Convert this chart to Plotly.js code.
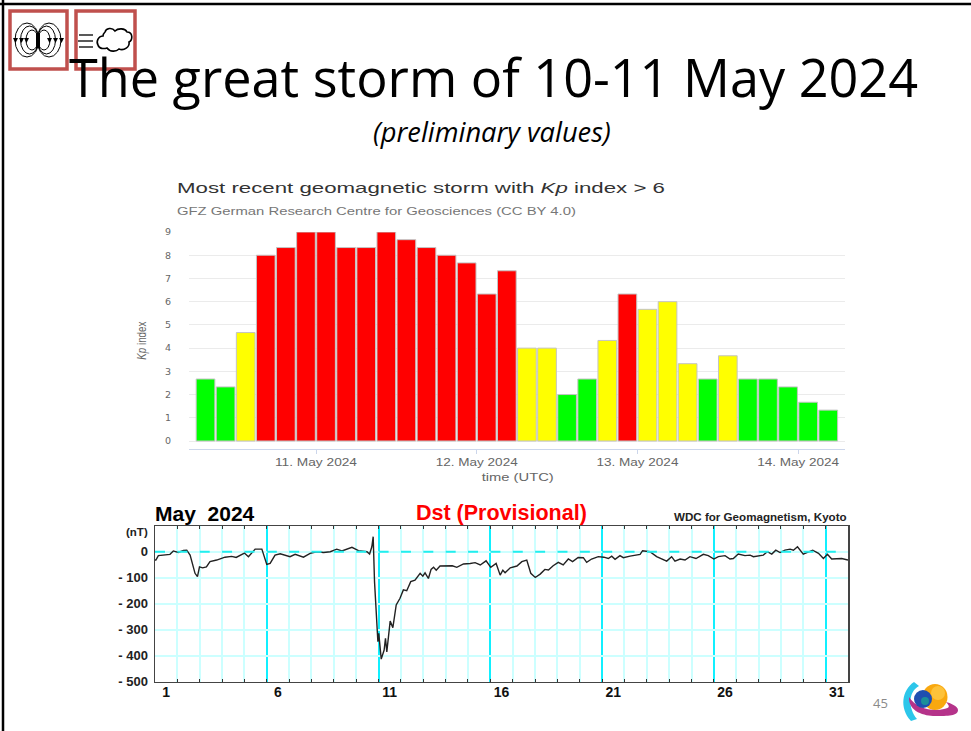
<!DOCTYPE html>
<html>
<head>
<meta charset="utf-8">
<script src="https://cdn.plot.ly/plotly-3.0.1.min.js"></script>
<style>html,body{margin:0;padding:0;background:#fff}#c{width:971px;height:731px}</style>
</head>
<body>
<div id="c"></div>
<script>
// Kp index, 3-hourly bars
var kpTimes = ['2024-05-10 07:30','2024-05-10 10:30','2024-05-10 13:30','2024-05-10 16:30','2024-05-10 19:30','2024-05-10 22:30',
 '2024-05-11 01:30','2024-05-11 04:30','2024-05-11 07:30','2024-05-11 10:30','2024-05-11 13:30','2024-05-11 16:30','2024-05-11 19:30','2024-05-11 22:30',
 '2024-05-12 01:30','2024-05-12 04:30','2024-05-12 07:30','2024-05-12 10:30','2024-05-12 13:30','2024-05-12 16:30','2024-05-12 19:30','2024-05-12 22:30',
 '2024-05-13 01:30','2024-05-13 04:30','2024-05-13 07:30','2024-05-13 10:30','2024-05-13 13:30','2024-05-13 16:30','2024-05-13 19:30','2024-05-13 22:30',
 '2024-05-14 01:30','2024-05-14 04:30'];
var kpValues = [2.67,2.33,4.67,8,8.33,9,9,8.33,8.33,9,8.67,8.33,8,7.67,6.33,7.33,4,4,2,2.67,4.33,6.33,5.67,6,3.33,2.67,3.67,2.67,2.67,2.33,1.67,1.33];
var G='#00ff00',Y='#ffff00',R='#ff0000';
var kpColors = [G,G,Y,R,R,R,R,R,R,R,R,R,R,R,R,R,Y,Y,G,G,Y,R,Y,Y,Y,G,Y,G,G,G,G,G];
var kpTickVals = ['2024-05-11','2024-05-12','2024-05-13','2024-05-14'];
var kpTickText = ['11. May 2024','12. May 2024','13. May 2024','14. May 2024'];

// Dst index: day position (1 = start of 1 May) and nT
var dstDays = [1.0,1.04,1.15,1.45,1.67,1.82,2.04,2.27,2.42,2.57,2.69,2.79,2.9,2.99,3.13,3.3,3.46,3.76,4.13,4.43,4.63,4.81,5.0,5.18,5.48,5.78,6.0,6.15,6.37,6.6,6.82,7.04,7.27,7.64,7.94,8.24,8.54,8.84,9.13,9.36,9.81,10.1,10.48,10.6,10.7,10.76,10.82,10.88,10.97,11.01,11.12,11.25,11.31,11.37,11.52,11.64,11.79,11.96,12.11,12.26,12.44,12.63,12.86,12.98,13.08,13.23,13.35,13.46,13.58,13.75,14.05,14.3,14.5,14.8,15.1,15.32,15.55,15.81,16.02,16.26,16.44,16.56,16.66,16.89,17.19,17.41,17.63,17.81,18.01,18.23,18.44,18.6,18.81,19.04,19.26,19.49,19.68,19.93,20.16,20.31,20.53,20.83,21.08,21.28,21.43,21.58,21.8,21.95,22.25,22.7,22.81,23.14,23.44,23.67,23.89,24.11,24.26,24.49,24.71,24.93,25.2,25.53,25.75,26.0,26.2,26.5,26.72,26.87,27.09,27.39,27.62,27.77,27.99,28.21,28.39,28.59,28.77,28.96,29.18,29.41,29.56,29.74,30.0,30.42,30.68,30.9,31.08,31.27,31.72,32.0];
var dstValues = [-32,-32,-15,-13,-10,3,-3,5,6,-13,-58,-83,-96,-58,-62,-58,-38,-32,-21,-18,-22,-13,-5,-19,10,10,-49,-45,-13,-8,-15,-19,-10,-21,-6,0,-3,0,10,3,17,4,0,-9,19,58,-115,-192,-346,-314,-413,-378,-333,-385,-267,-292,-205,-179,-147,-150,-115,-109,-83,-94,-81,-103,-68,-60,-71,-55,-53,-54,-60,-47,-45,-42,-51,-35,-60,-45,-90,-71,-81,-62,-55,-38,-32,-83,-99,-86,-68,-70,-54,-41,-51,-28,-38,-22,-23,-41,-28,-19,-21,-26,-17,-29,-15,-23,-17,-10,4,0,-19,-29,-36,-19,-36,-28,-32,-19,-26,-10,-15,-28,-19,-15,-28,-26,-9,-15,-13,-19,-15,-13,0,-9,6,-3,6,10,6,19,-9,6,-6,-26,-10,-28,-26,-32];
var dstLabelDays = [1.5,6.5,11.5,16.5,21.5,26.5,31.5];
var dstLabels = ['1','6','11','16','21','26','31'];
var dstYTicks = [0,-100,-200,-300,-400,-500];
var dstYLabels = ['0','- 100','- 200','- 300','- 400','- 500'];

var W=971,H=731;
function px(x){return x/W}
function py(y){return 1-y/H}
function path(s){ // pixel path -> paper path
  return s.replace(/(-?[\d.]+) (-?[\d.]+)/g,function(m,a,b){return px(+a)+' '+py(+b)});
}
function ell(cx,cy,rx,ry,o){return Object.assign({type:'circle',xref:'paper',yref:'paper',x0:px(cx-rx),x1:px(cx+rx),y0:py(cy+ry),y1:py(cy-ry)},o)}
function pth(s,o){return Object.assign({type:'path',xref:'paper',yref:'paper',path:path(s)},o)}
function rect(x0,y0,x1,y1,o){return Object.assign({type:'rect',xref:'paper',yref:'paper',x0:px(x0),x1:px(x1),y0:py(y1),y1:py(y0)},o)}
function seg(x0,y0,x1,y1,c,w){return {type:'line',xref:'paper',yref:'paper',x0:px(x0),x1:px(x1),y0:py(y0),y1:py(y1),line:{color:c,width:w}}}
var ln={color:'#000',width:1};
var none={color:'rgba(0,0,0,0)',width:0};
var boxLine={color:'#c0504d',width:3.5};
var shapes=[
  seg(0,4,971,4,'#000',2.5), seg(3,0,3,731,'#000',2.5),
  rect(10,11,67,69,{line:boxLine,fillcolor:'#fff'}),
  rect(76,11,135,69,{line:boxLine,fillcolor:'#fff'}),
  // dipole icon
  ell(27,40,12,17,{line:ln}),ell(29.5,40,9,14,{line:ln}),ell(32,40,6,10,{line:ln}),
  ell(49,40,12,17,{line:ln}),ell(46.5,40,9,14,{line:ln}),ell(44,40,6,10,{line:ln}),
  rect(36,33,40,48,{line:none,fillcolor:'#000'}),
  pth('M13 38 L18 38 L15.5 43 Z',{line:none,fillcolor:'#000'}),
  pth('M19 38 L24 38 L21.5 43 Z',{line:none,fillcolor:'#000'}),
  pth('M24 38 L29 38 L26.5 43 Z',{line:none,fillcolor:'#000'}),
  pth('M47 38 L52 38 L49.5 43 Z',{line:none,fillcolor:'#000'}),
  pth('M53 38 L58 38 L55.5 43 Z',{line:none,fillcolor:'#000'}),
  pth('M59 38 L64 38 L61.5 43 Z',{line:none,fillcolor:'#000'}),
  // cloud icon
  seg(79,35,93,35,'#222',1.5),seg(78,41,93,41,'#222',1.5),seg(79,47,93,47,'#222',1.5),
  pth('M103 36 C 98 36 96 42 98 45 C 99 49 104 49 107 48 C 110 52 116 52 119 49 C 124 51 130 47 129 42 C 133 40 133 32 127 32 C 125 28 118 28 115 31 C 112 27 106 28 105 32 C 104 33 103 35 103 36 Z',{line:{color:'#000',width:1.6},fillcolor:'#fff'}),
  // logo
  pth('M914 682 C 902 690 899 708 911 721 L 917 719 C 908 708 908 692 919 686 Z',{line:none,fillcolor:'#2cc6ea'}),
  ell(935,697,12.5,13,{line:none,fillcolor:'#f9a80f'}),
  ell(938,693,7,7,{line:none,fillcolor:'#fdc23a'}),
  pth('M909 697 C 908 712 925 716 935 716 C 948 716 958 716 958 710 C 958 706 950 703 946 702 C 950 706 950 708 944 709 C 932 712 916 708 909 697 Z',{line:none,fillcolor:'#b5338a'}),
  ell(923,699,9,9,{line:none,fillcolor:'#1f4fb0'}),
  ell(925,701,4,4,{line:none,fillcolor:'#1a8f9a'})
];

function note(x,y,text,size,color,family,extra){
  return Object.assign({xref:'paper',yref:'paper',x:px(x),y:py(y),xanchor:'center',yanchor:'middle',showarrow:false,text:text,
    font:{size:size,color:color,family:family}},extra||{});
}
var OS='"Open Sans",sans-serif', LS='"Liberation Sans",Arial,sans-serif', DV='"DejaVu Sans",sans-serif';
var annotations=[
  note(493,76,'The great storm of 10-11 May 2024',52.2,'#000',OS),
  note(492,132,'<i>(preliminary values)</i>',27.3,'#000',OS),
  note(421,188,'Most recent geomagnetic storm with <i>Kp</i> index &gt; 6',14.5,'#333',LS),
  note(376.5,212,'GFZ German Research Centre for Geosciences (CC BY 4.0)',10,'#777',LS),
  note(517,477,'time (UTC)',10.5,'#666',LS),
  note(142,341,'<i>Kp</i> index',12,'#666',LS,{textangle:-90}),
  note(153,513,'<b>May  2024</b>',21,'#000',LS,{xanchor:'left'}),
  note(501,513,'<b>Dst (Provisional)</b>',21.5,'#ff0000',LS),
  note(849,516,'<b>WDC for Geomagnetism, Kyoto</b>',11.6,'#222',LS,{xanchor:'right'}),
  note(150,532,'<b>(nT)</b>',11.5,'#222',LS,{xanchor:'right'}),
  note(871,703,'45',13,'#8a8a8a',OS,{xanchor:'left'})
];

var traces=[
 {type:'bar',x:kpTimes,y:kpValues,xaxis:'x',yaxis:'y',width:3*3600*1000*0.93,
  marker:{color:kpColors,line:{color:'#c4c4c4',width:1}},hoverinfo:'x+y'},
 {type:'scatter',mode:'lines',x:[1,32],y:[0,0],xaxis:'x3',yaxis:'y2',hoverinfo:'skip',
  line:{color:'#22eeee',width:2,dash:'10px,12.36px'}},
 {type:'scatter',mode:'lines',x:dstDays,y:dstValues,xaxis:'x2',yaxis:'y2',line:{color:'#222',width:1.4},hoverinfo:'x+y'}
];
var layout={
  width:W,height:H,margin:{l:0,r:0,t:0,b:0,pad:0},paper_bgcolor:'#fff',plot_bgcolor:'rgba(0,0,0,0)',showlegend:false,
  bargap:0,shapes:shapes,annotations:annotations,
  xaxis:{type:'date',domain:[px(189),px(845)],anchor:'y',range:['2024-05-10 05:02','2024-05-14 07:00'],
    tickmode:'array',tickvals:kpTickVals,ticktext:kpTickText,ticks:'outside',ticklen:4,tickwidth:1,tickcolor:'#ccd6eb',
    showgrid:false,showline:true,linecolor:'#ccd6eb',linewidth:1,zeroline:false,
    tickfont:{family:LS,size:10,color:'#666'}},
  yaxis:{domain:[py(449),py(232)],anchor:'x',range:[-0.344,9],tickmode:'array',tickvals:[0,1,2,3,4,5,6,7,8,9],
    showgrid:true,gridcolor:'#ebebeb',gridwidth:1,zeroline:false,showline:false,ticks:'',ticklabelstandoff:17,
    tickfont:{family:DV,size:9.5,color:'#666'}},
  xaxis2:{domain:[px(155),px(848)],anchor:'y2',range:[1,32],tick0:1,dtick:5,showticklabels:false,
    showgrid:true,gridcolor:'#11f0ff',gridwidth:2,zeroline:false,showline:true,mirror:'allticks',linecolor:'#444',linewidth:1.5,
    ticks:'inside',ticklen:3,tickcolor:'#333',tickwidth:1,
    minor:{dtick:1,tick0:1,showgrid:true,gridcolor:'#ccffff',gridwidth:2,ticks:'inside',ticklen:3,tickcolor:'#333',tickwidth:1}},
  xaxis3:{domain:[px(155),px(848)],anchor:'y2',overlaying:'x2',range:[1,32],tickmode:'array',tickvals:dstLabelDays,ticktext:dstLabels,
    showgrid:false,zeroline:false,showline:false,ticks:'',tickfont:{family:LS,size:14,color:'#111',weight:'bold'}},
  yaxis2:{domain:[py(681.7),py(526)],anchor:'x2',range:[-500,99],tickmode:'array',tickvals:dstYTicks,ticktext:dstYLabels,
    showgrid:true,gridcolor:'#ccffff',gridwidth:2,zeroline:false,showline:true,mirror:true,linecolor:'#444',linewidth:1.5,ticks:'',ticklabelstandoff:3,
    tickfont:{family:LS,size:13,color:'#222',weight:'bold'}}
};
function fit(el,len){el.setAttribute('textLength',len);el.setAttribute('lengthAdjust','spacingAndGlyphs');}
Plotly.newPlot('c',traces,layout,{displayModeBar:false,staticPlot:true}).then(function(){
  var widths={'Most recent':488,'GFZ German':399,'time (UTC)':72,'Kp index':38};
  document.querySelectorAll('.annotation-text').forEach(function(t){
    Object.keys(widths).forEach(function(k){ if(t.textContent.indexOf(k)===0) fit(t,widths[k]); });
  });
  document.querySelectorAll('.xtick text').forEach(function(t){ fit(t,82); });
});
</script>
</body>
</html>
